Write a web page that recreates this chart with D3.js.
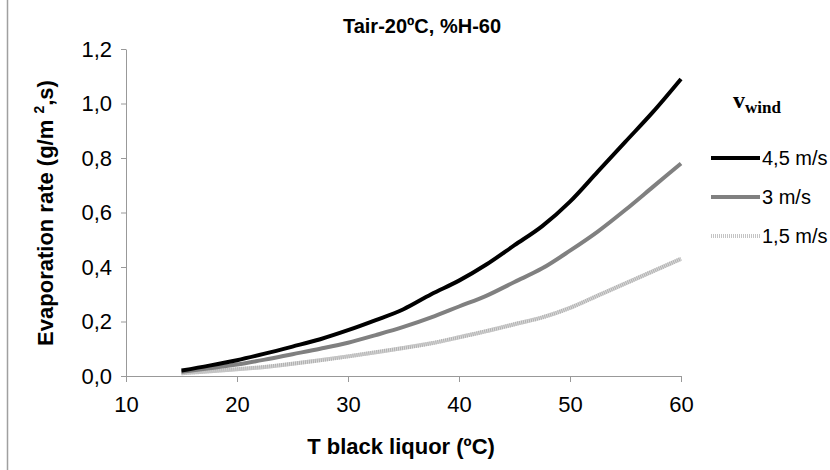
<!DOCTYPE html>
<html>
<head>
<meta charset="utf-8">
<script src="https://cdn.jsdelivr.net/npm/d3@7"></script>
<style>
  body { margin: 0; background: #fff; }
</style>
</head>
<body>
<div id="chart"></div>
<script>
// temperatures of black liquor (ºC)
var temps = [15, 17.5, 20, 22.5, 25, 27.5, 30, 32.5, 35, 37.5, 40, 42.5, 45, 47.5, 50, 52.5, 55, 57.5, 60];

// evaporation rate (g/m2,s) per wind speed
var wind45 = [0.02, 0.038, 0.058, 0.082, 0.108, 0.135, 0.168, 0.205, 0.245, 0.30, 0.35, 0.41, 0.48, 0.55, 0.64, 0.75, 0.86, 0.97, 1.09];
var wind3  = [0.015, 0.028, 0.042, 0.06, 0.08, 0.10, 0.122, 0.15, 0.18, 0.215, 0.255, 0.295, 0.345, 0.395, 0.46, 0.53, 0.61, 0.695, 0.78];
var wind15 = [0.01, 0.017, 0.025, 0.033, 0.045, 0.058, 0.072, 0.087, 0.103, 0.12, 0.142, 0.165, 0.19, 0.215, 0.25, 0.295, 0.34, 0.385, 0.43];

var seriesNames = ["4,5 m/s", "3 m/s", "1,5 m/s"];
var xTicks = [10, 20, 30, 40, 50, 60];
var yTicks = [0, 0.2, 0.4, 0.6, 0.8, 1.0, 1.2];

var width = 830, height = 470;
var sans = "'Liberation Sans', Arial, sans-serif";

var svg = d3.select("#chart").append("svg")
    .attr("width", width)
    .attr("height", height)
    .style("font-family", sans);

// left border of the chart area
svg.append("line")
    .attr("x1", 7.5).attr("x2", 7.5)
    .attr("y1", 0).attr("y2", height)
    .attr("stroke", "#a0a0a0")
    .attr("stroke-width", 1.5);

var x = d3.scaleLinear().domain([10, 60]).range([126, 681]);
var y = d3.scaleLinear().domain([0, 1.2]).range([376, 49]);

var fmt = function(d) { return d3.format(".1f")(d).replace(".", ","); };

var xAxis = svg.append("g")
    .attr("transform", "translate(0,376)")
    .call(d3.axisBottom(x).tickValues(xTicks).tickSize(6).tickSizeOuter(0).tickPadding(14));

var yAxis = svg.append("g")
    .attr("transform", "translate(126,0)")
    .call(d3.axisLeft(y).tickValues(yTicks).tickFormat(fmt).tickSize(5).tickSizeOuter(0).tickPadding(9));

[xAxis, yAxis].forEach(function(a) {
  a.select(".domain").attr("stroke", "#999");
  a.selectAll(".tick line").attr("stroke", "#999");
  a.selectAll(".tick text")
    .style("font-family", sans)
    .style("font-size", "22px")
    .attr("fill", "#000");
});

var line = d3.line()
    .x(function(d) { return x(d[0]); })
    .y(function(d) { return y(d[1]); })
    .curve(d3.curveMonotoneX);

function pairs(vals) {
  return temps.map(function(t, i) { return [t, vals[i]]; });
}

// 1,5 m/s : light dotted grey
svg.append("path")
    .datum(pairs(wind15))
    .attr("d", line)
    .attr("fill", "none")
    .attr("stroke", "#dadada")
    .attr("stroke-width", 4);
svg.append("path")
    .datum(pairs(wind15))
    .attr("d", line)
    .attr("fill", "none")
    .attr("stroke", "#b0b0b0")
    .attr("stroke-width", 4)
    .attr("stroke-dasharray", "1,1");

// 3 m/s : mid grey
svg.append("path")
    .datum(pairs(wind3))
    .attr("d", line)
    .attr("fill", "none")
    .attr("stroke", "#808080")
    .attr("stroke-width", 4);

// 4,5 m/s : black
svg.append("path")
    .datum(pairs(wind45))
    .attr("d", line)
    .attr("fill", "none")
    .attr("stroke", "#000")
    .attr("stroke-width", 4);

// title
svg.append("text")
    .attr("x", 422).attr("y", 33)
    .attr("text-anchor", "middle")
    .style("font-size", "20px")
    .style("font-weight", "bold")
    .text("Tair-20ºC, %H-60");

// x axis title
svg.append("text")
    .attr("x", 401).attr("y", 454)
    .attr("text-anchor", "middle")
    .style("font-size", "22px")
    .style("font-weight", "bold")
    .text("T black liquor (ºC)");

// y axis title
var yt = svg.append("text")
    .attr("transform", "translate(53,213) rotate(-90)")
    .attr("text-anchor", "middle")
    .style("font-size", "22px")
    .style("font-weight", "bold");
yt.append("tspan").text("Evaporation rate (g/m ");
yt.append("tspan").style("font-size", "14px").attr("dy", -9).text("2");
yt.append("tspan").attr("dy", 9).text(",s)");

// legend
var leg = svg.append("g");
var legTitle = leg.append("text")
    .attr("x", 733).attr("y", 108)
    .style("font-family", "'Liberation Serif', 'Times New Roman', serif")
    .style("font-weight", "bold");
legTitle.append("tspan").style("font-size", "24px").text("v");
legTitle.append("tspan").style("font-size", "17px").attr("dy", 5).text("wind");

var legY = [158, 197, 236];
var legColors = ["#000", "#808080", "#c4c4c4"];
seriesNames.forEach(function(name, i) {
  leg.append("line")
    .attr("x1", 711).attr("x2", 760)
    .attr("y1", legY[i]).attr("y2", legY[i])
    .attr("stroke", legColors[i])
    .attr("stroke-width", 4)
    .attr("stroke-dasharray", i == 2 ? "1,1" : null);
  leg.append("text")
    .attr("x", 762).attr("y", legY[i] + 7)
    .style("font-size", "20px")
    .text(name);
});
</script>
</body>
</html>
